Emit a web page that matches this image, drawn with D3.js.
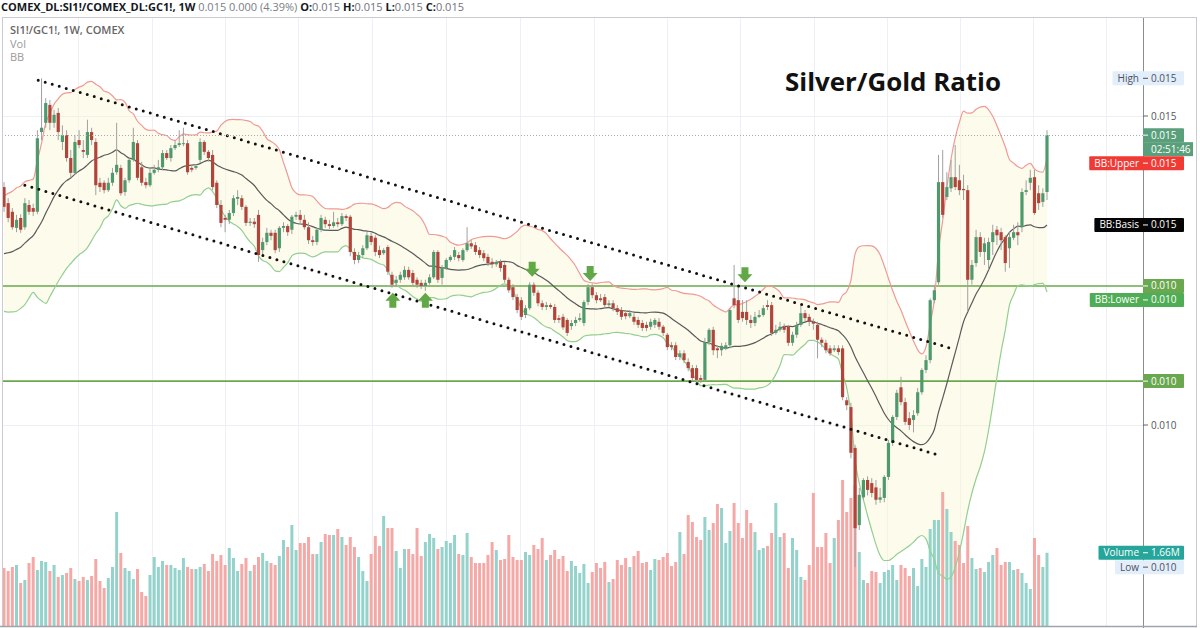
<!DOCTYPE html>
<html>
<head>
<meta charset="utf-8">
<script src="https://cdn.jsdelivr.net/npm/d3@7"></script>
<style>
  body { margin: 0; background: #fff; }
  svg { display: block; font-family: "Open Sans", sans-serif; }
</style>
</head>
<body>
<div id="chart"></div>
<script>
// Prices: SI1!/GC1! ratio in units of 1e-5 (1500 = 0.01500). Weekly candles.
const history = [1307,1283,1264,1243,1227,1218,1231,1248,1254,1238,1222,1231,1264,1286,1307,1324,1332,1348,1367]

const opens = [
  1385,1359,1345,1319,1335,1320,1356,1351,1345,1474,
  1489,1518,1489,1505,1458,1469,1432,1408,1461,1445,
  1437,1474,1458,1392,1392,1380,1392,1409,1416,1377,
  1396,1429,1456,1417,1393,1388,1408,1413,1417,1440,
  1432,1448,1453,1455,1456,1416,1416,1429,1458,1442,
  1437,1392,1356,1335,1332,1343,1366,1367,1353,1327,
  1329,1340,1283,1296,1311,1311,1286,1319,1322,1316,
  1337,1340,1332,1320,1299,1296,1316,1332,1325,1322,
  1328,1325,1338,1337,1280,1267,1275,1286,1306,1303,
  1283,1278,1288,1243,1230,1235,1239,1251,1246,1235,
  1230,1225,1230,1239,1280,1238,1254,1267,1272,1275,
  1267,1283,1294,1291,1283,1278,1272,1264,1260,1264,
  1259,1235,1223,1207,1202,1178,1189,1227,1214,1197,
  1191,1194,1191,1173,1175,1170,1160,1165,1170,1165,
  1199,1223,1210,1205,1207,1194,1197,1189,1186,1181,
  1176,1175,1170,1165,1162,1159,1162,1167,1159,1146,
  1129,1129,1110,1116,1102,1092,1092,1076,1073,1134,
  1154,1124,1121,1124,1129,1205,1202,1183,1183,1170,
  1165,1175,1178,1194,1194,1149,1154,1159,1159,1133,
  1146,1162,1181,1175,1167,1162,1138,1133,1124,1121,
  1124,1124,1040,1029,963,838,883,911,906,899,
  879,882,916,971,1013,1061,1037,1011,1008,1019,
  1053,1089,1105,1202,1231,1393,1369,1383,1401,1396,
  1382,1380,1235,1262,1304,1280,1267,1296,1316,1312,
  1304,1286,1303,1312,1320,1377,1392,1401,1375,1361,
  1377
]

const highs = [
  1393,1367,1351,1340,1341,1367,1364,1358,1477,1561,
  1529,1526,1510,1513,1485,1477,1445,1469,1477,1461,
  1494,1481,1464,1400,1396,1400,1416,1489,1421,1400,
  1432,1481,1461,1426,1400,1416,1421,1429,1445,1445,
  1453,1461,1477,1481,1461,1421,1422,1464,1461,1445,
  1445,1396,1364,1340,1348,1372,1380,1372,1356,1335,
  1335,1348,1303,1319,1316,1316,1322,1328,1325,1340,
  1345,1348,1340,1328,1306,1319,1340,1337,1332,1345,
  1335,1343,1341,1340,1286,1280,1291,1312,1311,1307,
  1290,1286,1291,1248,1241,1248,1257,1256,1251,1239,
  1235,1235,1244,1283,1283,1259,1270,1275,1288,1280,
  1286,1320,1299,1296,1288,1283,1277,1270,1267,1268,
  1264,1239,1228,1212,1207,1194,1231,1231,1218,1202,
  1199,1197,1196,1178,1180,1173,1170,1175,1181,1202,
  1228,1228,1215,1212,1212,1202,1202,1194,1191,1186,
  1186,1181,1175,1170,1167,1172,1173,1173,1162,1149,
  1134,1134,1121,1121,1108,1097,1097,1081,1141,1157,
  1159,1129,1133,1134,1189,1259,1227,1202,1202,1178,
  1183,1186,1194,1202,1199,1162,1167,1164,1162,1151,
  1167,1193,1186,1180,1172,1167,1142,1138,1129,1129,
  1129,1129,1045,1036,968,898,914,917,914,911,
  898,919,976,1016,1057,1078,1044,1021,1024,1060,
  1092,1113,1205,1227,1437,1445,1409,1429,1453,1421,
  1405,1388,1267,1316,1312,1303,1303,1324,1322,1319,
  1307,1312,1324,1328,1383,1396,1413,1413,1388,1383,
  1477
]

const lows = [
  1345,1328,1316,1312,1311,1316,1340,1338,1341,1461,
  1481,1477,1481,1461,1445,1426,1400,1405,1448,1432,
  1432,1453,1372,1377,1375,1377,1387,1405,1371,1371,
  1392,1426,1396,1387,1383,1385,1405,1409,1413,1429,
  1426,1445,1450,1451,1405,1409,1413,1424,1437,1426,
  1380,1351,1320,1312,1325,1338,1356,1348,1322,1322,
  1319,1264,1275,1291,1299,1278,1280,1312,1306,1309,
  1332,1324,1316,1293,1290,1291,1312,1319,1317,1319,
  1320,1322,1330,1273,1260,1262,1270,1283,1291,1273,
  1270,1275,1243,1222,1223,1230,1235,1235,1225,1222,
  1220,1217,1227,1236,1230,1227,1251,1264,1267,1265,
  1264,1280,1285,1275,1270,1265,1257,1254,1256,1248,
  1230,1214,1202,1181,1170,1173,1186,1209,1192,1186,
  1186,1188,1165,1165,1154,1144,1154,1160,1167,1160,
  1194,1205,1197,1199,1189,1191,1184,1178,1170,1171,
  1173,1162,1157,1152,1152,1154,1157,1154,1144,1121,
  1121,1105,1105,1100,1087,1071,1068,1068,1070,1129,
  1113,1108,1112,1121,1124,1189,1165,1167,1162,1157,
  1160,1173,1175,1186,1144,1146,1151,1149,1128,1128,
  1141,1159,1168,1160,1154,1108,1126,1116,1112,1118,
  1113,1040,1024,946,770,830,879,886,883,871,
  874,875,911,966,1008,1032,1000,992,988,1015,
  1049,1084,1100,1197,1227,1335,1364,1377,1380,1372,
  1364,1183,1227,1256,1272,1259,1251,1275,1291,1283,
  1248,1254,1299,1291,1312,1372,1380,1340,1348,1353,
  1364
]

const closes = [
  1353,1335,1320,1332,1316,1359,1345,1345,1464,1481,
  1521,1489,1502,1474,1469,1432,1408,1458,1453,1442,
  1474,1461,1388,1385,1380,1392,1408,1421,1375,1396,
  1429,1458,1400,1392,1388,1408,1413,1417,1440,1432,
  1448,1453,1456,1456,1409,1413,1419,1458,1442,1432,
  1385,1356,1327,1332,1343,1367,1369,1353,1327,1329,
  1325,1275,1296,1311,1306,1283,1319,1322,1312,1337,
  1340,1332,1320,1299,1296,1316,1335,1325,1322,1328,
  1325,1338,1335,1280,1267,1275,1286,1307,1296,1280,
  1275,1283,1248,1227,1235,1243,1251,1239,1230,1227,
  1225,1230,1239,1280,1235,1254,1267,1272,1283,1270,
  1283,1294,1289,1280,1275,1270,1262,1260,1264,1254,
  1235,1218,1207,1186,1175,1189,1227,1214,1197,1191,
  1194,1191,1170,1170,1158,1149,1165,1170,1173,1199,
  1223,1210,1202,1202,1194,1197,1189,1183,1175,1176,
  1181,1167,1162,1157,1157,1167,1170,1159,1149,1126,
  1126,1110,1116,1105,1092,1076,1073,1073,1134,1154,
  1121,1121,1128,1129,1186,1194,1170,1173,1170,1165,
  1175,1178,1189,1191,1149,1154,1159,1154,1133,1146,
  1162,1181,1173,1167,1164,1138,1133,1121,1116,1124,
  1118,1045,1032,955,833,887,911,895,890,879,
  883,916,971,1013,1052,1037,1005,1000,1016,1053,
  1089,1105,1202,1218,1393,1340,1385,1401,1385,1380,
  1380,1235,1259,1304,1280,1294,1296,1312,1307,1299,
  1262,1304,1312,1307,1377,1380,1400,1343,1359,1375,
  1469
]

// weekly volume, thousands
const volumes = [
  1315,1247,1338,1383,975,1043,1428,1564,1270,1474,
  1451,1247,1383,1111,1156,1202,1315,1065,1020,1111,
  1043,1134,1519,1020,861,1088,1338,2584,1655,1315,
  1247,1065,1292,771,680,1156,1564,1338,1474,1383,
  1383,1315,1270,1542,1338,1292,1292,1338,1406,1247,
  1632,1474,1610,1383,1768,1542,1247,1406,1542,1247,
  1383,1564,1655,1474,1428,1383,1587,1950,1791,2290,
  1723,1882,1882,2018,1632,1632,1904,2086,2063,2063,
  2199,2018,1836,2018,1791,1564,1247,1020,1632,2040,
  1814,2494,2222,2222,1700,1315,1746,1746,1632,2222,
  1587,1904,2086,1995,1746,1791,1927,1882,2063,1632,
  1610,2108,1564,1428,1428,1428,1610,1904,1723,1496,
  1519,2063,1564,1496,1496,1678,1610,1836,1746,1995,
  1496,1610,1723,1519,1587,1247,1474,1360,1202,1406,
  975,1224,1428,1315,1451,997,1065,1496,1383,1542,
  1338,1587,1700,1428,1451,1270,1519,1496,1564,1655,
  1360,1451,2131,1632,2516,2358,2018,1950,2471,2176,
  2335,2766,2675,1882,2154,2788,2335,1995,2630,2335,
  2131,1723,1768,1814,2108,2788,2018,2108,1315,1995,
  1723,1111,1043,1383,3015,1791,1791,2108,1428,1995,
  2403,3310,2584,2902,3196,1678,1043,975,1247,1224,
  975,1224,1270,1383,1043,1383,1315,1134,1315,907,
  1519,1338,2199,2403,2403,3038,2652,2131,1927,1836,
  1428,2267,1542,1292,1315,1224,1451,1610,1768,1383,
  1451,1451,1270,1292,1202,975,839,1995,1610,1338,
  1660
]

// Annotations (candle index, price)
const priceTicks = [1500, 1000]
const levels = [1225, 1071]
const trendLines = [
  [[8.2, 1558], [226.5, 1125]],
  [[5, 1388], [223.2, 953]],
]
const upArrows = [[93.2, 1214], [101, 1214]]
const downArrows = [[126.6, 1240], [140.5, 1233], [177.6, 1231]]
const gridIdx = [17.7, 35.5, 53.0, 70.5, 88.2, 105.9, 123.7, 141.4, 158.9, 176.4, 194.1, 211.6, 229.1, 246.6, 264.1]

const titleText = 'Silver/Gold Ratio'
const symbolText = 'COMEX_DL:SI1!/COMEX_DL:GC1!, 1W'
const changeText = '0.000 (4.39%)'
const legendLines = ['SI1!/GC1!, 1W, COMEX', 'Vol', 'BB']
const countdown = '02:51:46'

function draw() {
  const dimensions = { width: 1200, height: 628, left: 2, right: 1143, top: 18, bottom: 626 }

  const data = closes.map((c, i) => ({
    i, open: opens[i], high: highs[i], low: lows[i], close: c, vol: volumes[i]
  }))

  // Bollinger bands (20, 2)
  const allCloses = history.concat(closes)
  const bb = closes.map((c, i) => {
    const win = allCloses.slice(i, i + 20)
    const mean = d3.mean(win)
    const sd = Math.sqrt(d3.mean(win, v => (v - mean) ** 2))
    return { i, basis: mean, upper: mean + 2 * sd, lower: mean - 2 * sd }
  })

  // tick size of the spread is 0.005
  const fmt = v => (Math.round(v / 1e5 / 0.005) * 0.005).toFixed(3)
  const fmtVol = v => d3.format('.3~s')(v * 1000).replace('G', 'B')

  const svg = d3.select('#chart').append('svg')
    .attr('width', dimensions.width)
    .attr('height', dimensions.height)

  svg.append('rect').attr('width', dimensions.width).attr('height', dimensions.height).attr('fill', '#fff')

  // Scales
  const xScale = d3.scaleLinear().domain([0, 250]).range([4, 1047])
  const yScale = d3.scaleLinear().domain([1000, 1500]).range([425, 116])
  const volScale = d3.scaleLinear().domain([0, 3400]).range([626, 476])

  svg.append('clipPath').attr('id', 'pane')
    .append('rect')
    .attr('x', dimensions.left).attr('y', dimensions.top)
    .attr('width', dimensions.right - dimensions.left)
    .attr('height', dimensions.bottom - dimensions.top)

  const ctr = svg.append('g').attr('clip-path', 'url(#pane)')

  // Grid
  ctr.selectAll('.vgrid').data(gridIdx).join('line')
    .attr('x1', d => Math.round(xScale(d)) + 0.5).attr('x2', d => Math.round(xScale(d)) + 0.5)
    .attr('y1', dimensions.top).attr('y2', dimensions.bottom)
    .attr('stroke', '#eef0f4')
  ctr.selectAll('.hgrid').data(priceTicks).join('line')
    .attr('x1', dimensions.left).attr('x2', dimensions.right)
    .attr('y1', d => Math.round(yScale(d)) + 0.5).attr('y2', d => Math.round(yScale(d)) + 0.5)
    .attr('stroke', '#eceff3')

  // BB fill
  ctr.append('path').datum(bb)
    .attr('d', d3.area().x(d => xScale(d.i)).y0(d => yScale(d.lower)).y1(d => yScale(d.upper)))
    .attr('fill', '#fbf6d2').attr('opacity', 0.45)

  // Volume
  ctr.selectAll('.vol').data(data).join('rect')
    .attr('x', d => xScale(d.i) - 1.5)
    .attr('width', 3)
    .attr('y', d => volScale(d.vol))
    .attr('height', d => volScale(0) - volScale(d.vol))
    .attr('fill', d => d.close >= d.open ? '#93d3cc' : '#f5a9a7')

  // Support levels
  ctr.selectAll('.level').data(levels).join('line')
    .attr('x1', dimensions.left).attr('x2', dimensions.right)
    .attr('y1', d => yScale(d)).attr('y2', d => yScale(d))
    .attr('stroke', '#6aa84f').attr('stroke-width', 1.6)

  // BB lines
  const bbLine = key => d3.line().x(d => xScale(d.i)).y(d => yScale(d[key])).curve(d3.curveMonotoneX)
  ctr.append('path').datum(bb).attr('d', bbLine('upper'))
    .attr('fill', 'none').attr('stroke', '#f09a95').attr('stroke-width', 1.2)
  ctr.append('path').datum(bb).attr('d', bbLine('lower'))
    .attr('fill', 'none').attr('stroke', '#92cf90').attr('stroke-width', 1.2)
  ctr.append('path').datum(bb).attr('d', bbLine('basis'))
    .attr('fill', 'none').attr('stroke', '#5a5a5a').attr('stroke-width', 1.2)

  // Candles
  const candles = ctr.selectAll('.candle').data(data).join('g')
  candles.append('line')
    .attr('x1', d => xScale(d.i)).attr('x2', d => xScale(d.i))
    .attr('y1', d => yScale(d.high)).attr('y2', d => yScale(d.low))
    .attr('stroke', '#a0a0a0').attr('stroke-width', 1)
  candles.append('rect')
    .attr('x', d => xScale(d.i) - 1.6)
    .attr('width', 3.2)
    .attr('y', d => yScale(Math.max(d.open, d.close)))
    .attr('height', d => Math.max(1, Math.abs(yScale(d.open) - yScale(d.close))))
    .attr('fill', d => d.close >= d.open ? '#4f9a6c' : '#b3443a')

  // Trend channel
  ctr.selectAll('.trend').data(trendLines).join('line')
    .attr('x1', d => xScale(d[0][0])).attr('y1', d => yScale(d[0][1]))
    .attr('x2', d => xScale(d[1][0])).attr('y2', d => yScale(d[1][1]))
    .attr('stroke', '#111').attr('stroke-width', 3)
    .attr('stroke-linecap', 'round').attr('stroke-dasharray', '0 7.3')

  // Arrows
  const arrowUp = 'M0,0 L7.5,8 L3.5,8 L3.5,15 L-3.5,15 L-3.5,8 L-7.5,8 Z'
  const arrowDown = 'M0,0 L7.5,-8 L3.5,-8 L3.5,-15 L-3.5,-15 L-3.5,-8 L-7.5,-8 Z'
  ctr.selectAll('.up').data(upArrows).join('path')
    .attr('d', arrowUp)
    .attr('transform', d => `translate(${xScale(d[0])},${yScale(d[1])})`)
    .attr('fill', '#62a846')
  ctr.selectAll('.down').data(downArrows).join('path')
    .attr('d', arrowDown)
    .attr('transform', d => `translate(${xScale(d[0])},${yScale(d[1])})`)
    .attr('fill', '#62a846')

  // Last price line
  const last = data[data.length - 1]
  ctr.append('line')
    .attr('x1', dimensions.left).attr('x2', dimensions.right)
    .attr('y1', Math.round(yScale(last.close)) + 0.5).attr('y2', Math.round(yScale(last.close)) + 0.5)
    .attr('stroke', '#a6a9b0').attr('stroke-dasharray', '1 2')

  // Frame
  svg.append('rect')
    .attr('x', 2.5).attr('y', 17.5).attr('width', 1194).attr('height', 609)
    .attr('fill', 'none').attr('stroke', '#c9cbd0')
  svg.append('line')
    .attr('x1', dimensions.right + 0.5).attr('x2', dimensions.right + 0.5)
    .attr('y1', dimensions.top).attr('y2', 628)
    .attr('stroke', '#8a8d94')
  svg.append('line')
    .attr('x1', 0).attr('x2', 1197)
    .attr('y1', 626.5).attr('y2', 626.5)
    .attr('stroke', '#a0a3aa').attr('stroke-width', 1.5)

  // Axis ticks
  const yAxisGroup = svg.append('g')
  yAxisGroup.selectAll('.tick').data(priceTicks).join('g')
    .attr('transform', d => `translate(${dimensions.right},${yScale(d)})`)
    .call(g => g.append('line').attr('x1', 0).attr('x2', 5).attr('stroke', '#666'))
    .call(g => g.append('text').attr('x', 8).attr('dy', '0.35em')
      .attr('font-size', 10).attr('fill', '#555').text(d => fmt(d)))

  // Right side tags
  const lastBB = bb[bb.length - 1]
  const tags = [
    { name: 'High', y: yScale(d3.max(highs)), text: fmt(d3.max(highs)), bg: '#e3eefb', fg: '#4c505b' },
    { name: '', y: yScale(last.close), text: fmt(last.close), bg: '#5a9f7b', fg: '#fff', sub: countdown },
    { name: 'BB:Upper', y: yScale(lastBB.upper), text: fmt(lastBB.upper), bg: '#f23a35', fg: '#fff' },
    { name: 'BB:Basis', y: yScale(lastBB.basis), text: fmt(lastBB.basis), bg: '#050505', fg: '#fff' },
    { name: '', y: yScale(levels[0]), text: fmt(levels[0]), bg: '#6aa84f', fg: '#fff' },
    { name: 'BB:Lower', y: yScale(lastBB.lower), text: fmt(lastBB.lower), bg: '#4fad55', fg: '#fff' },
    { name: '', y: yScale(levels[1]), text: fmt(levels[1]), bg: '#6aa84f', fg: '#fff' },
    { name: 'Volume', y: volScale(last.vol), text: fmtVol(last.vol), bg: '#26a69a', fg: '#fff' },
    { name: 'Low', y: yScale(d3.min(lows)), text: fmt(d3.min(lows)), bg: '#e3eefb', fg: '#4c505b' },
  ]
  // push overlapping tags apart
  let prevBottom = -Infinity
  tags.forEach(t => {
    const h = t.sub ? 28 : 14
    if (t.y - 7 < prevBottom) t.y = prevBottom + 7
    prevBottom = t.y - 7 + h
  })

  const tagGroup = svg.append('g').attr('font-size', 10)
  tags.forEach(t => {
    const g = tagGroup.append('g').attr('transform', `translate(0,${t.y})`)
    const bgRect = g.append('rect').attr('y', -7).attr('height', 14).attr('rx', 1).attr('fill', t.bg)
    let x0 = dimensions.right
    if (t.name) {
      const nameText = g.append('text').attr('x', dimensions.right - 4).attr('dy', '0.35em')
        .attr('text-anchor', 'end').attr('fill', t.fg).text(t.name)
      x0 = dimensions.right - 4 - nameText.node().getComputedTextLength() - 5
    }
    bgRect.attr('x', x0).attr('width', 1184 - x0)
    g.append('line').attr('x1', dimensions.right).attr('x2', dimensions.right + 5)
      .attr('stroke', t.fg)
    g.append('text').attr('x', dimensions.right + 8).attr('dy', '0.35em')
      .attr('fill', t.fg).text(t.text)
    if (t.sub) {
      g.append('rect').attr('x', dimensions.right).attr('y', 7).attr('width', 50).attr('height', 14)
        .attr('fill', t.bg)
      g.append('text').attr('x', dimensions.right + 8).attr('y', 14).attr('dy', '0.35em')
        .attr('fill', t.fg).text(t.sub)
    }
  })

  // Header
  const header = svg.append('text').attr('x', 1).attr('y', 11).attr('font-size', 11).attr('fill', '#131722')
  header.append('tspan').attr('font-weight', 'bold').text(symbolText)
  header.append('tspan').attr('fill', '#7a7d86').text(` ${fmt(last.close)} ${changeText} `)
  ;[['O', last.open], ['H', last.high], ['L', last.low], ['C', last.close]].forEach(([k, v]) => {
    header.append('tspan').attr('font-weight', 'bold').text(` ${k}:`)
    header.append('tspan').attr('fill', '#6f727b').text(fmt(v))
  })

  // Legend
  svg.selectAll('.legend').data(legendLines).join('text')
    .attr('x', 10).attr('y', (d, i) => 34 + i * 13.5)
    .attr('font-size', 11)
    .attr('font-weight', (d, i) => i === 0 ? 600 : 400)
    .attr('fill', (d, i) => i === 0 ? '#666' : '#9a9a9a')
    .text(d => d)

  // Title
  svg.append('text')
    .attr('x', 893).attr('y', 91)
    .attr('text-anchor', 'middle')
    .attr('font-size', 25).attr('font-weight', 'bold').attr('fill', '#111')
    .attr('textLength', 216).attr('lengthAdjust', 'spacingAndGlyphs')
    .text(titleText)
}
draw()
</script>
</body>
</html>
